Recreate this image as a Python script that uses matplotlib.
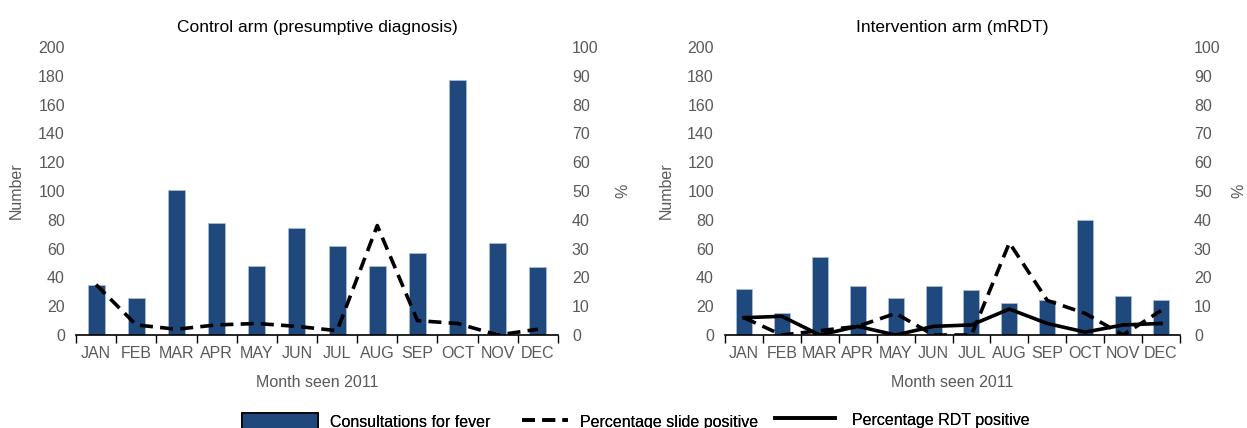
import matplotlib
matplotlib.use("Agg")
import matplotlib.pyplot as plt
from matplotlib.patches import Patch
from matplotlib.lines import Line2D
import numpy as np

plt.rcParams['font.family'] = ['Liberation Sans', 'DejaVu Sans']

months = ["JAN", "FEB", "MAR", "APR", "MAY", "JUN", "JUL", "AUG", "SEP", "OCT", "NOV", "DEC"]

control_consult = [35, 26, 101, 78, 48, 74, 62, 48, 57, 177, 64, 47]
control_slide = [17.5, 3.5, 2, 3.5, 4, 3, 1.5, 38, 5, 4, 0, 2]

interv_consult = [32, 15, 54, 34, 26, 34, 31, 22, 24, 80, 27, 24]
interv_slide = [6, 0, 1.5, 3, 7.5, 0, 0, 32, 12, 7.5, 0, 8.5]
interv_rdt = [6, 6.5, 0, 3, 0, 3, 3.5, 9, 4, 1, 3.5, 4]

BAR = '#1f497d'
GREY = '#595959'
DASH = (0, (3.6, 2.0))
LW = 2.6

fig = plt.figure(figsize=(12.47, 4.28), dpi=100)

def make_panel(rect, title, consult, slide, rdt=None, pct_pad=12):
    ax = fig.add_axes(rect)
    x = np.arange(len(months))
    ax.bar(x, consult, width=0.42, color=BAR, edgecolor='#a9bcd6', linewidth=0.6, zorder=2)
    ax.set_xlim(-0.5, 11.5)
    ax.set_ylim(0, 200)
    ax.set_yticks(np.arange(0, 201, 20))
    ax.set_xticks(x)
    ax.set_xticklabels(months)
    ax.set_xticks(np.arange(-0.5, 12, 1), minor=True)
    ax.tick_params(axis='x', which='major', length=0, pad=8, labelsize=11.5, labelcolor=GREY)
    ax.tick_params(axis='x', which='minor', length=6, width=1, direction='out', color='black')
    ax.tick_params(axis='y', length=0, pad=8, labelsize=11.5, labelcolor=GREY)
    for s in ['top', 'right', 'left']:
        ax.spines[s].set_visible(False)
    ax.spines['bottom'].set_color('black')
    ax.spines['bottom'].set_linewidth(1.2)
    ax.set_ylabel("Number", fontsize=11.5, color=GREY, labelpad=10)
    ax.set_xlabel("Month seen 2011", fontsize=11.5, color=GREY, labelpad=10)
    ax.set_title(title, fontsize=12.5, color='black', pad=11)

    ax2 = ax.twinx()
    ax2.set_ylim(0, 100)
    ax2.set_yticks(np.arange(0, 101, 10))
    ax2.tick_params(axis='y', length=0, pad=10, labelsize=11.5, labelcolor=GREY)
    for s in ['top', 'right', 'left', 'bottom']:
        ax2.spines[s].set_visible(False)
    ax2.plot(x, slide, color='black', lw=LW, linestyle=DASH, zorder=3)
    if rdt is not None:
        ax2.plot(x, rdt, color='black', lw=LW, zorder=3)
    ax2.set_ylabel("%", fontsize=11.5, color=GREY, labelpad=pct_pad)
    return ax, ax2

make_panel([76/1247, 1-335/428, (558-76)/1247, (335-47)/428],
           "Control arm (presumptive diagnosis)", control_consult, control_slide)
make_panel([725/1247, 1-335/428, (1180-725)/1247, (335-47)/428],
           "Intervention arm (mRDT)", interv_consult, interv_slide, interv_rdt, pct_pad=8)

leg_items = [
    (Patch(facecolor=BAR, edgecolor='black', linewidth=1.2), "Consultations for fever", 242, 413, 4.75, 0.75),
    (Line2D([], [], color='black', lw=LW, linestyle=DASH), "Percentage slide positive", 522, 413, 2.9, 0.75),
    (Line2D([], [], color='black', lw=LW), "Percentage RDT positive", 775, 411, 3.75, 1.1),
]
for h, lab, px, py, hl, tp in leg_items:
    lg = fig.legend([h], [lab], loc='upper left', bbox_to_anchor=(px/1247, 1-py/428),
                    frameon=False, fontsize=11.5, handlelength=hl, handleheight=1.3,
                    handletextpad=tp, borderaxespad=0, borderpad=0)
    fig.add_artist(lg)

fig.savefig("out.png", dpi=100)
